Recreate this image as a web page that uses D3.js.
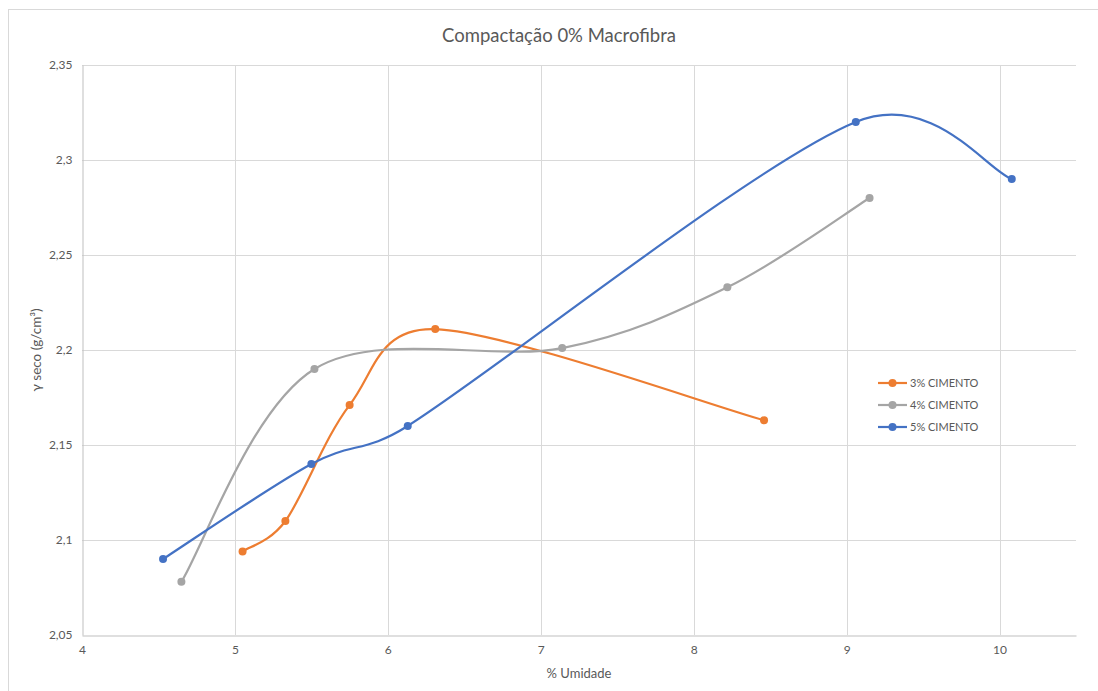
<!DOCTYPE html>
<html>
<head>
<meta charset="utf-8">
<script src="https://cdn.jsdelivr.net/npm/d3@7"></script>
<style>
  html, body { margin: 0; padding: 0; background: #fff; }
  svg { display: block; font-family: Lato, "Open Sans", sans-serif; }
</style>
</head>
<body>
<svg id="chart" width="1098" height="691"></svg>
<script>
// Compaction curves: moisture (%) vs dry unit weight (g/cm³)
const seriesNames = ["3% CIMENTO", "4% CIMENTO", "5% CIMENTO"];
const seriesColors = ["#ED7D31", "#A5A5A5", "#4472C4"];

const umidade3 = [5.05, 5.33, 5.75, 6.31, 8.46];
const gamma3   = [2.094, 2.110, 2.171, 2.211, 2.163];

const umidade4 = [4.65, 5.52, 7.14, 8.22, 9.15];
const gamma4   = [2.078, 2.190, 2.201, 2.233, 2.280];

const umidade5 = [4.53, 5.50, 6.13, 9.06, 10.08];
const gamma5   = [2.090, 2.140, 2.160, 2.320, 2.290];

const xTicks = [4, 5, 6, 7, 8, 9, 10];
const yTicks = [2.05, 2.10, 2.15, 2.20, 2.25, 2.30, 2.35];

const series = [
  { name: seriesNames[0], color: seriesColors[0], x: umidade3, y: gamma3 },
  { name: seriesNames[1], color: seriesColors[1], x: umidade4, y: gamma4 },
  { name: seriesNames[2], color: seriesColors[2], x: umidade5, y: gamma5 }
];

const svg = d3.select("#chart");
const W = 1098, H = 691;
const plot = { left: 82, right: 1076, top: 65, bottom: 635 };

// chart frame (right and bottom edges fall outside the canvas)
svg.append("rect")
  .attr("x", 8.5).attr("y", 9.5)
  .attr("width", W + 20).attr("height", H + 20)
  .attr("fill", "#fff").attr("stroke", "#d9d9d9");

const x = d3.scaleLinear().domain([4, 10.5]).range([plot.left, plot.right]);
const y = d3.scaleLinear().domain([2.05, 2.35]).range([plot.bottom, plot.top]);

const fmt = d => String(+d.toFixed(2)).replace(".", ",");

// gridlines
const grid = svg.append("g");
grid.selectAll("line.v").data(xTicks.filter(t => t > 4)).join("line")
  .attr("x1", d => Math.round(x(d)) + 0.5).attr("x2", d => Math.round(x(d)) + 0.5)
  .attr("y1", plot.top).attr("y2", plot.bottom)
  .attr("stroke", "#d9d9d9").attr("stroke-width", 1);
grid.selectAll("line.h").data(yTicks.filter(t => t > 2.05)).join("line")
  .attr("x1", plot.left).attr("x2", plot.right)
  .attr("y1", d => Math.round(y(d)) + 0.5).attr("y2", d => Math.round(y(d)) + 0.5)
  .attr("stroke", "#d9d9d9").attr("stroke-width", 1);

// axes
const xAxis = svg.append("g")
  .attr("transform", `translate(0,${plot.bottom + 0.5})`)
  .call(d3.axisBottom(x).tickValues(xTicks).tickSize(0).tickPadding(10).tickFormat(d => d));
const yAxis = svg.append("g")
  .attr("transform", `translate(${plot.left + 0.5},0)`)
  .call(d3.axisLeft(y).tickValues(yTicks).tickSize(0).tickPadding(10).tickFormat(fmt));
[xAxis, yAxis].forEach(a => {
  a.select(".domain").attr("stroke", "#bfbfbf").attr("stroke-width", 1);
  a.selectAll("text").attr("fill", "#595959").attr("font-size", 12)
    .attr("font-family", "Lato, 'Open Sans', sans-serif");
});

// titles
svg.append("text")
  .attr("x", 559).attr("y", 42)
  .attr("text-anchor", "middle").attr("fill", "#595959")
  .attr("font-size", 18.5).text("Compactação 0% Macrofibra");
svg.append("text")
  .attr("x", (plot.left + plot.right) / 2).attr("y", 678)
  .attr("text-anchor", "middle").attr("fill", "#595959")
  .attr("font-size", 13).text("% Umidade");
svg.append("text")
  .attr("transform", `translate(41,${(plot.top + plot.bottom) / 2}) rotate(-90)`)
  .attr("text-anchor", "middle").attr("fill", "#595959")
  .attr("font-size", 13.5).text("γ seco (g/cm³)");

// Smoothed line: cubic Bézier through the points, tangent (P2-P0)/6,
// with each control arm capped at half the segment length.
function smoothPath(pts) {
  const p = pts.map(d => [x(d[0]), y(d[1])]);
  const dist = (a, b) => Math.hypot(b[0] - a[0], b[1] - a[1]);
  const path = d3.path();
  path.moveTo(p[0][0], p[0][1]);
  for (let i = 0; i < p.length - 1; i++) {
    const p0 = p[Math.max(i - 1, 0)], p1 = p[i], p2 = p[i + 1], p3 = p[Math.min(i + 2, p.length - 1)];
    const d12 = dist(p1, p2), d02 = dist(p0, p2), d13 = dist(p1, p3);
    const f1 = d02 > 0 ? Math.min(1 / 6, d12 / (2 * d02)) : 0;
    const f2 = d13 > 0 ? Math.min(1 / 6, d12 / (2 * d13)) : 0;
    path.bezierCurveTo(
      p1[0] + (p2[0] - p0[0]) * f1, p1[1] + (p2[1] - p0[1]) * f1,
      p2[0] - (p3[0] - p1[0]) * f2, p2[1] - (p3[1] - p1[1]) * f2,
      p2[0], p2[1]);
  }
  return path.toString();
}

series.forEach(s => {
  const pts = s.x.map((v, i) => [v, s.y[i]]);
  const g = svg.append("g");
  g.append("path")
    .attr("d", smoothPath(pts)).attr("fill", "none")
    .attr("stroke", s.color).attr("stroke-width", 2.2)
    .attr("stroke-linecap", "round");
  g.selectAll("circle").data(pts).join("circle")
    .attr("cx", d => x(d[0])).attr("cy", d => y(d[1]))
    .attr("r", 4).attr("fill", s.color);
});

// legend
const legend = svg.append("g").attr("transform", "translate(878,383)");
series.forEach((s, i) => {
  const row = legend.append("g").attr("transform", `translate(0,${i * 22})`);
  row.append("line").attr("x1", 0).attr("x2", 29).attr("y1", 0).attr("y2", 0)
    .attr("stroke", s.color).attr("stroke-width", 2.2);
  row.append("circle").attr("cx", 14.5).attr("cy", 0).attr("r", 4).attr("fill", s.color);
  row.append("text").attr("x", 32).attr("y", 4)
    .attr("fill", "#595959").attr("font-size", 11).text(s.name);
});
</script>
</body>
</html>
